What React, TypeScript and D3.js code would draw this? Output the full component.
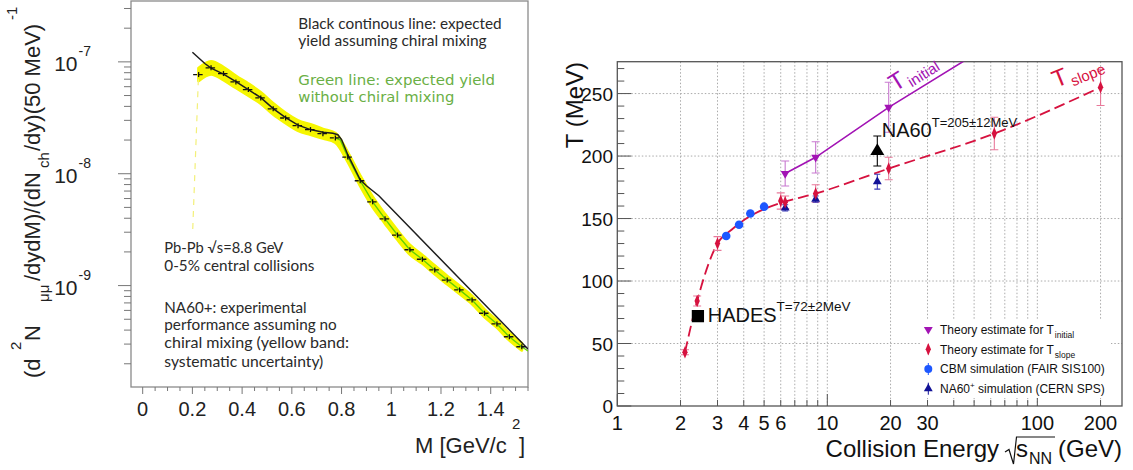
import React from "react";
import * as d3 from "d3";

// ---------------- Left panel data ----------------
const massBins = [0.225, 0.275, 0.325, 0.375, 0.425, 0.475, 0.525, 0.575, 0.625, 0.675, 0.725, 0.775, 0.825, 0.875, 0.925, 0.975, 1.025, 1.075, 1.125, 1.175, 1.225, 1.275, 1.325, 1.375, 1.425, 1.475, 1.525];
const yieldNA60 = [7.7e-8, 8.84e-8, 7.86e-8, 6.62e-8, 5.65e-8, 4.76e-8, 3.8e-8, 3.15e-8, 2.69e-8, 2.48e-8, 2.28e-8, 2.09e-8, 1.41e-8, 8.65e-9, 5.61e-9, 3.95e-9, 2.83e-9, 2.09e-9, 1.72e-9, 1.38e-9, 1.12e-9, 9.15e-10, 7.44e-10, 5.66e-10, 4.54e-10, 3.49e-10, 2.84e-10];
const sysRel = [0.14, 0.14, 0.14, 0.13, 0.13, 0.12, 0.12, 0.11, 0.11, 0.11, 0.1, 0.1, 0.1, 0.11, 0.11, 0.1, 0.1, 0.1, 0.09, 0.09, 0.085, 0.085, 0.085, 0.08, 0.075, 0.075, 0.075];

const chiralM = [0.2, 0.25, 0.275, 0.325, 0.375, 0.425, 0.475, 0.525, 0.575, 0.625, 0.675, 0.725, 0.765, 0.785, 0.8, 0.825, 0.875, 0.9, 0.95, 1.55];
const chiralYield = [1.219e-7, 9.66e-8, 8.8e-8, 7.78e-8, 6.66e-8, 5.65e-8, 4.79e-8, 3.82e-8, 3.17e-8, 2.72e-8, 2.48e-8, 2.35e-8, 2.3e-8, 2.23e-8, 2.02e-8, 1.48e-8, 8.84e-9, 7.81e-9, 6.35e-9, 2.71e-10];

const noChiralM = [0.775, 0.795, 0.825, 0.875, 0.925, 0.975, 1.025, 1.075, 1.125, 1.175, 1.225, 1.275, 1.325, 1.375, 1.425, 1.475, 1.525, 1.55];
const noChiralYield = [2.09e-8, 2.0e-8, 1.41e-8, 8.65e-9, 5.61e-9, 3.95e-9, 2.83e-9, 2.09e-9, 1.72e-9, 1.38e-9, 1.12e-9, 9.15e-10, 7.44e-10, 5.66e-10, 4.54e-10, 3.49e-10, 2.84e-10, 2.6e-10];

const firstBinLowM = [0.224, 0.201];
const firstBinLowYield = [7.0e-8, 3.03e-9];

const leftXTicks = [0, 0.2, 0.4, 0.6, 0.8, 1, 1.2, 1.4];
const leftXTickLabels = ["0", "0.2", "0.4", "0.6", "0.8", "1", "1.2", "1.4"];
const leftYDecades = [-9, -8, -7];

// ---------------- Right panel data ----------------
const tSlopeE = [2.1, 2.4, 3.0, 6.0, 6.3, 8.8, 19.6, 62.4, 200];
const tSlopeT = [43, 84, 130, 164, 163, 170, 190, 218, 255];
const tSlopeErr = [2, 4, 5.5, 6.5, 5, 7, 9, 13, 14.5];
const tSlopeCurveE = [2.1, 2.4, 3.0, 3.5, 4.2, 5.0, 6.0, 8.8, 19.6, 62.4, 200];
const tSlopeCurveT = [43, 84, 130, 141, 151, 157.5, 162.5, 170, 190, 218, 255];

const tInitE = [6.3, 8.8, 19.6];
const tInitT = [186, 199, 239];
const tInitErr = [10, 12.5, 20];
const tInitLineE = [6.3, 8.8, 19.6, 62.4];
const tInitLineT = [186, 199, 239, 291];

const cbmE = [3.3, 3.8, 4.3, 5.0];
const cbmT = [136, 145, 154, 159.5];

const na60SimE = [6.3, 8.8, 17.3];
const na60SimT = [158.5, 165.5, 179.5];
const na60SimErr = [2.5, 2.5, 6];

const na60Meas = { e: 17.3, t: 204, err: 12 };
const hades = { e: 2.42, t: 72, err: 2 };

const rightXTicks = [1, 2, 3, 4, 5, 6, 10, 20, 30, 100, 200];
const rightYTicks = [0, 50, 100, 150, 200, 250];

const CRIMSON = "#d6123f";
const PINK = "#e8799a";
const PURPLE = "#a213b4";
const LPURPLE = "#c879d0";
const BLUE = "#1d57ff";
const DBLUE = "#121297";
const SANS = "'Liberation Sans', Arial, sans-serif";

export default function App() {
  // Left scales
  const xL = d3.scaleLinear().domain([-0.047, 1.55]).range([131, 528]);
  const yL = d3.scaleLog().domain([1.24e-10, 3.5e-7]).range([387, 1]);
  // Right scales
  const xR = d3.scaleLog().domain([1, 253]).range([617.3, 1122]);
  const yR = d3.scaleLinear().domain([0, 275.5]).range([406, 61.7]);

  const band = d3
    .area<number>()
    .x((i) => xL(massBins[i]))
    .y0((i) => yL(yieldNA60[i] / (1 + sysRel[i])))
    .y1((i) => yL(yieldNA60[i] * (1 + sysRel[i])))
    .curve(d3.curveMonotoneX);
  const idx = massBins.map((_, i) => i);

  const lineL = (ms: number[], vs: number[]) =>
    d3.line<number>().x((i) => xL(ms[i])).y((i) => yL(vs[i]))(ms.map((_, i) => i)) || "";

  const lineR = (es: number[], ts: number[], smooth = false) => {
    const l = d3.line<number>().x((i) => xR(es[i])).y((i) => yR(ts[i]));
    if (smooth) l.curve(d3.curveMonotoneX);
    return l(es.map((_, i) => i)) || "";
  };

  // left minor ticks
  const leftYMinor: number[] = [];
  [-10, -9, -8, -7].forEach((d) => {
    for (let k = 1; k <= 9; k++) {
      const v = k * Math.pow(10, d);
      if (v >= 1.24e-10 && v <= 3.5e-7) leftYMinor.push(v);
    }
  });
  const leftXMinor = d3.range(0, 1.56, 0.05);

  const rGrid = xR.ticks();
  const rYMinor = d3.range(0, 271, 10);

  const diamond = d3.symbol().type(d3.symbolDiamond).size(34)() || "";
  const triUp = d3.symbol().type(d3.symbolTriangle).size(34)() || "";
  const triBig = d3.symbol().type(d3.symbolTriangle).size(85)() || "";
  const square = d3.symbol().type(d3.symbolSquare).size(150)() || "";

  const errBar = (x: number, y0: number, y1: number, color: string, cap = 4, key?: string) => (
    <g key={key} stroke={color} strokeWidth={1.1}>
      <line x1={x} x2={x} y1={y0} y2={y1} />
      <line x1={x - cap} x2={x + cap} y1={y0} y2={y0} />
      <line x1={x - cap} x2={x + cap} y1={y1} y2={y1} />
    </g>
  );

  const legendRows = [
    { y: 329.5, kind: "tinit" },
    { y: 349.3, kind: "tslope" },
    { y: 369, kind: "cbm" },
    { y: 388.7, kind: "na60" },
  ];

  return (
    <svg width={1133} height={470} style={{ position: "absolute", left: 0, top: 0, background: "#fff" }} fontFamily={SANS}>
      <defs>
        <clipPath id="clipL">
          <rect x={131} y={1} width={397} height={386} />
        </clipPath>
        <clipPath id="clipR">
          <rect x={617.3} y={61.7} width={504.7} height={344.3} />
        </clipPath>
      </defs>
      <rect x={0} y={0} width={1133} height={470} fill="#fff" />

      {/* ================= LEFT PANEL ================= */}
      <rect x={131} y={1} width={397} height={386} fill="none" stroke="#8a8a8a" strokeWidth={1.3} />
      {/* y ticks */}
      {leftYMinor.map((v, i) => {
        const major = Math.abs(Math.log10(v) - Math.round(Math.log10(v))) < 1e-6;
        return <line key={"lym" + i} x1={131} x2={major ? 118 : 124} y1={yL(v)} y2={yL(v)} stroke="#777" strokeWidth={1} />;
      })}
      {leftYDecades.map((d) => (
        <text key={"lyl" + d} x={91} y={yL(Math.pow(10, d)) + 9} fontSize={21} textAnchor="end" fill="#222">
          10
          <tspan fontSize={14} dx={1} dy={-15}>{String(d)}</tspan>
        </text>
      ))}
      {/* x ticks */}
      {leftXMinor.map((m, i) => {
        const major = Math.abs(m / 0.2 - Math.round(m / 0.2)) < 1e-6;
        return <line key={"lxm" + i} x1={xL(m)} x2={xL(m)} y1={387} y2={major ? 394 : 391} stroke="#777" strokeWidth={1} />;
      })}
      {leftXTicks.map((m, i) => (
        <text key={"lxl" + i} x={xL(m)} y={416} fontSize={20} textAnchor="middle" fill="#222">
          {leftXTickLabels[i]}
        </text>
      ))}
      {/* axis titles */}
      <text x={415} y={453} fontSize={22} fill="#222">M [GeV/c</text>
      <text x={512} y={429} fontSize={15} fill="#222">2</text>
      <text x={519} y={453} fontSize={22} fill="#222">]</text>
      <g transform="translate(40,0) rotate(-90)" fill="#222">
        <text x={-378} y={0} fontSize={22}>(d</text>
        <text x={-350} y={-19} fontSize={15}>2</text>
        <text x={-341} y={0} fontSize={22}>N</text>
        <text x={-302} y={9} fontSize={15}>μμ</text>
        <text x={-281} y={0} fontSize={22}>/dydM)/(dN</text>
        <text x={-168} y={9} fontSize={15}>ch</text>
        <text x={-151} y={0} fontSize={22}>/dy)(50 MeV)</text>
        <text x={-20} y={-23} fontSize={15}>-1</text>
      </g>

      <g clipPath="url(#clipL)">
        <path d={band(idx) || ""} fill="#f6f600" stroke="#f6f600" strokeWidth={3} strokeLinejoin="round" />
        <path d={lineL(firstBinLowM, firstBinLowYield)} stroke="#f3f07a" strokeWidth={1.2} strokeDasharray="6,6" fill="none" />
        <path d={lineL(noChiralM, noChiralYield)} stroke="#62d000" strokeWidth={1.4} fill="none" />
        <path d={lineL(chiralM, chiralYield)} stroke="#1e1e1e" strokeWidth={1.5} fill="none" />
        {massBins.map((m, i) => (
          <g key={"pt" + i} stroke="#111" strokeWidth={1.3}>
            <line x1={xL(m - 0.022)} x2={xL(m + 0.022)} y1={yL(yieldNA60[i])} y2={yL(yieldNA60[i])} strokeDasharray="4,1.5" />
            <line x1={xL(m)} x2={xL(m)} y1={yL(yieldNA60[i]) - 2.5} y2={yL(yieldNA60[i]) + 2.5} />
          </g>
        ))}
      </g>

      {/* annotations */}
      <g fontFamily="Lato, 'Open Sans', sans-serif" fontSize={15} fill="#2a2a2a">
        <text x={298.3} y={29.3} textLength={203.4} lengthAdjust="spacingAndGlyphs">Black continous line: expected</text>
        <text x={298.3} y={46} textLength={188.4} lengthAdjust="spacingAndGlyphs">yield assuming chiral mixing</text>
      </g>
      <g fontFamily="'DejaVu Sans', Verdana, sans-serif" fontSize={14} fill="#6aaf45">
        <text x={298.3} y={85} textLength={196.7} lengthAdjust="spacingAndGlyphs">Green line: expected yield</text>
        <text x={298.3} y={101.7} textLength={156} lengthAdjust="spacingAndGlyphs">without chiral mixing</text>
      </g>
      <g fontFamily="Lato, 'Open Sans', sans-serif" fontSize={15} fill="#2a2a2a">
        <text x={164.3} y={252.7} textLength={119} lengthAdjust="spacingAndGlyphs">Pb-Pb √s=8.8 GeV</text>
        <text x={164.3} y={270.7} textLength={150} lengthAdjust="spacingAndGlyphs">0-5% central collisions</text>
        <text x={164.3} y={312.7} textLength={142.4} lengthAdjust="spacingAndGlyphs">NA60+: experimental</text>
        <text x={164.3} y={330.3} textLength={172.4} lengthAdjust="spacingAndGlyphs">performance assuming no</text>
        <text x={164.3} y={348.3} textLength={184.7} lengthAdjust="spacingAndGlyphs">chiral mixing (yellow band:</text>
        <text x={164.3} y={366.7} textLength={159} lengthAdjust="spacingAndGlyphs">systematic uncertainty)</text>
      </g>

      {/* ================= RIGHT PANEL ================= */}
      {/* grid */}
      {rGrid
        .filter((e) => e > 1)
        .map((e, i) => (
          <line key={"rgx" + i} x1={xR(e)} x2={xR(e)} y1={61.7} y2={406} stroke="#aaa" strokeWidth={1} strokeDasharray="1.5,2" />
        ))}
      {rightYTicks
        .filter((t) => t > 0)
        .map((t) => (
          <line key={"rgy" + t} x1={617.3} x2={1122} y1={yR(t)} y2={yR(t)} stroke="#aaa" strokeWidth={1} strokeDasharray="1.5,2" />
        ))}
      <rect x={617.3} y={61.7} width={504.7} height={344.3} fill="none" stroke="#555" strokeWidth={1.3} />
      {/* y ticks */}
      {rYMinor.map((t) => (
        <line key={"rym" + t} x1={617.3} x2={617.3 + (t % 50 === 0 ? 14 : 7)} y1={yR(t)} y2={yR(t)} stroke="#555" strokeWidth={1} />
      ))}
      {rightYTicks.map((t) => (
        <text key={"ryl" + t} x={613} y={yR(t) + 7} fontSize={19} textAnchor="end" fill="#111">
          {t}
        </text>
      ))}
      {/* x ticks */}
      {rGrid.map((e, i) => {
        const major = Math.abs(Math.log10(e) - Math.round(Math.log10(e))) < 1e-6;
        return <line key={"rxt" + i} x1={xR(e)} x2={xR(e)} y1={406} y2={406 - (major ? 12 : 6)} stroke="#555" strokeWidth={1} />;
      })}
      {rightXTicks.map((e) => (
        <text key={"rxl" + e} x={xR(e)} y={430} fontSize={20} textAnchor="middle" fill="#111">
          {e}
        </text>
      ))}
      {/* axis titles */}
      <text transform="translate(583,62) rotate(-90)" fontSize={24} textAnchor="end" fill="#111">
        T (MeV)
      </text>
      <text x={999} y={456.7} fontSize={24} textAnchor="end" fill="#111">
        Collision Energy
      </text>
      <path d="M1005,452 L1009,449.5 L1013.5,464 L1016.5,437 L1055,437" fill="none" stroke="#111" strokeWidth={1.2} />
      <text x={1016} y={456.7} fontSize={24} fill="#111">s</text>
      <text x={1029} y={464} fontSize={16} fill="#111">NN</text>
      <text x={1122} y={456.7} fontSize={24} textAnchor="end" fill="#111">
        (GeV)
      </text>

      <g clipPath="url(#clipR)">
        {/* theory curves */}
        <path d={lineR(tInitLineE, tInitLineT)} stroke={PURPLE} strokeWidth={1.6} fill="none" />
        <path d={lineR(tSlopeCurveE, tSlopeCurveT, true)} stroke={CRIMSON} strokeWidth={1.8} fill="none" strokeDasharray="11,5" />

        {/* error bars */}
        {tInitE.map((e, i) => errBar(xR(e), yR(tInitT[i] - tInitErr[i]), yR(tInitT[i] + tInitErr[i]), LPURPLE, 4, "tie" + i))}
        {tSlopeE.map((e, i) => errBar(xR(e), yR(tSlopeT[i] - tSlopeErr[i]), yR(tSlopeT[i] + tSlopeErr[i]), PINK, 4, "tse" + i))}
        {na60SimE.map((e, i) => errBar(xR(e), yR(na60SimT[i] - na60SimErr[i]), yR(na60SimT[i] + na60SimErr[i]), "#3a3ab8", 3, "nse" + i))}

        {/* markers */}
        {tInitE.map((e, i) => (
          <path key={"tim" + i} d={triUp} transform={`translate(${xR(e)},${yR(tInitT[i])}) rotate(180)`} fill={PURPLE} />
        ))}
        {na60SimE.map((e, i) => (
          <path key={"nsm" + i} d={triUp} transform={`translate(${xR(e)},${yR(na60SimT[i])})`} fill={DBLUE} />
        ))}
        {tSlopeE.map((e, i) => (
          <path key={"tsm" + i} d={diamond} transform={`translate(${xR(e)},${yR(tSlopeT[i])}) scale(0.85,1.15)`} fill={CRIMSON} />
        ))}
        {cbmE.map((e, i) => (
          <circle key={"cbm" + i} cx={xR(e)} cy={yR(cbmT[i])} r={4.3} fill={BLUE} />
        ))}

        {/* measured points */}
        {errBar(xR(na60Meas.e), yR(na60Meas.t - na60Meas.err), yR(na60Meas.t + na60Meas.err), "#000", 4, "na60e")}
        <path d={triBig} transform={`translate(${xR(na60Meas.e)},${yR(na60Meas.t)}) scale(1,0.95)`} fill="#000" />
        <path d={square} transform={`translate(${xR(hades.e)},${yR(hades.t)})`} fill="#000" />
      </g>

      {/* labels */}
      <text x={881.7} y={136.7} fontSize={20} fill="#111">
        NA60
        <tspan fontSize={13} dy={-10}>T=205±12MeV</tspan>
      </text>
      <text x={707.7} y={321.7} fontSize={20} fill="#111">
        HADES
        <tspan fontSize={13.5} dy={-11}>T=72±2MeV</tspan>
      </text>
      <text transform="translate(895,92) rotate(-32)" fontSize={24} fill={PURPLE}>
        T<tspan fontSize={15} dx={2} dy={5}>initial</tspan>
      </text>
      <text transform="translate(1056,88) rotate(-22)" fontSize={24} fill={CRIMSON}>
        T<tspan fontSize={15} dx={2} dy={5}>slope</tspan>
      </text>

      {/* legend */}
      <rect x={921} y={319} width={190} height={79} fill="#fff" />
      {legendRows.map((r) => {
        const mx = 928.3;
        let marker: React.ReactNode = null;
        if (r.kind === "tinit")
          marker = <path d={triUp} transform={`translate(${mx},${r.y}) rotate(180)`} fill={PURPLE} />;
        else if (r.kind === "tslope")
          marker = (
            <g>
              <line x1={mx} x2={mx} y1={r.y - 5} y2={r.y + 5} stroke={CRIMSON} strokeWidth={1} />
              <path d={diamond} transform={`translate(${mx},${r.y}) scale(0.85,1.15)`} fill={CRIMSON} />
            </g>
          );
        else if (r.kind === "cbm")
          marker = (
            <g>
              <line x1={mx} x2={mx} y1={r.y - 6} y2={r.y + 6} stroke={BLUE} strokeWidth={1} />
              <circle cx={mx} cy={r.y} r={4} fill={BLUE} />
            </g>
          );
        else
          marker = (
            <g>
              <line x1={mx} x2={mx} y1={r.y - 6} y2={r.y + 6} stroke={DBLUE} strokeWidth={1} />
              <path d={triUp} transform={`translate(${mx},${r.y})`} fill={DBLUE} />
            </g>
          );
        return <g key={r.kind}>{marker}</g>;
      })}
      <g fontSize={12} fill="#111">
        <text x={940} y={333.8}>
          Theory estimate for T<tspan fontSize={8.5} dx={1} dy={4}>initial</tspan>
        </text>
        <text x={940} y={353.6}>
          Theory estimate for T<tspan fontSize={8.5} dx={1} dy={4}>slope</tspan>
        </text>
        <text x={940} y={373.3}>CBM simulation (FAIR SIS100)</text>
        <text x={940} y={393}>
          NA60<tspan fontSize={8} dy={-5}>+</tspan>
          <tspan dy={5}> simulation (CERN SPS)</tspan>
        </text>
      </g>
    </svg>
  );
}
